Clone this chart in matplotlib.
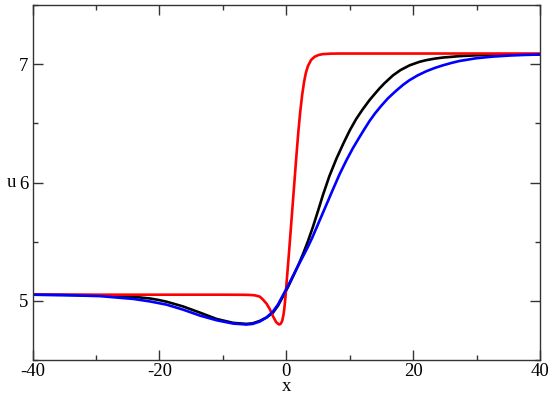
import matplotlib
matplotlib.use("Agg")
import matplotlib.pyplot as plt
from matplotlib.ticker import MultipleLocator

# curves (x, u)
red_x = [-40, -30, -20, -10, -6.5, -5.8, -5.0, -4.2, -3.7, -3.1, -2.6, -2.1, -1.6,
         -1.15, -0.9, -0.65, -0.45, -0.3, -0.14, 0.1, 0.4, 0.7, 1.0, 1.3, 1.6,
         1.9, 2.2, 2.5, 2.8, 3.1, 3.42, 3.9, 4.47, 5.1, 5.78, 7.0, 8.5, 10, 20,
         30, 40]
red_u = [5.052, 5.052, 5.052, 5.052, 5.051, 5.05, 5.047, 5.036, 5.012, 4.975,
         4.93, 4.87, 4.82, 4.80, 4.805, 4.83, 4.88, 4.94, 5.03, 5.19, 5.39, 5.6,
         5.81, 6.02, 6.23, 6.43, 6.6, 6.74, 6.85, 6.93, 6.985, 7.035, 7.063,
         7.078, 7.085, 7.089, 7.09, 7.09, 7.09, 7.09, 7.09]

black_x = [-40, -35, -29.4, -24.1, -21.5, -20.2, -18.9, -16.3, -13.6, -11.0, -8.4,
           -6.3, -5.3, -4.2, -3.1, -2.1, -1.3, -0.5, 0.3, 1.05, 2.0, 2.63, 3.42,
           4.2, 5.0, 5.78, 6.8, 7.89, 9.0, 10.0, 11.0, 12.0, 13.13, 14.0, 14.71,
           15.5, 16.81, 18.0, 19.43, 21.0, 22.06, 23.4, 24.68, 27.3, 29.93, 32.55,
           36, 40]
black_u = [5.052, 5.05, 5.046, 5.034, 5.02, 5.008, 4.993, 4.953, 4.90, 4.847,
           4.814, 4.805, 4.81, 4.83, 4.86, 4.90, 4.96, 5.04, 5.12, 5.205, 5.315,
           5.395, 5.505, 5.625, 5.76, 5.895, 6.055, 6.2, 6.33, 6.44, 6.535, 6.615,
           6.697, 6.752, 6.796, 6.84, 6.905, 6.95, 6.99, 7.02, 7.034, 7.047,
           7.056, 7.068, 7.075, 7.079, 7.081, 7.082]

blue_x = [-40, -35, -29.4, -24.1, -21.5, -18.9, -16.3, -13.6, -11.0, -8.4, -6.3,
          -5.3, -4.2, -3.1, -2.1, -1.3, -0.5, 0.3, 1.05, 2.0, 2.63, 3.4, 4.1,
          4.74, 5.5, 6.3, 7.3, 8.4, 9.5, 10.5, 11.5, 12.3, 13.13, 14.0, 15.0,
          16.0, 17.2, 18.4, 19.43, 20.7, 22.06, 23.4, 24.68, 26.0, 27.3, 29.93,
          32.55, 35.2, 37.5, 40]
blue_u = [5.052, 5.048, 5.04, 5.016, 4.995, 4.968, 4.926, 4.875, 4.836, 4.808,
          4.800, 4.805, 4.825, 4.86, 4.91, 4.97, 5.05, 5.13, 5.21, 5.31, 5.375,
          5.455, 5.535, 5.615, 5.71, 5.81, 5.935, 6.07, 6.19, 6.29, 6.38, 6.45,
          6.52, 6.585, 6.65, 6.71, 6.77, 6.825, 6.865, 6.905, 6.94, 6.968, 6.99,
          7.01, 7.027, 7.05, 7.064, 7.073, 7.078, 7.082]

plt.rcParams['font.family'] = ['Liberation Serif', 'DejaVu Serif']
plt.rcParams['font.size'] = 13.5
plt.rcParams['axes.unicode_minus'] = False

fig = plt.figure(figsize=(5.5, 3.95), dpi=100)
ax = fig.add_axes([0.0593, 0.0886, 0.9225, 0.8987])

ax.plot(black_x, black_u, color='black', lw=1.9)
ax.plot(red_x, red_u, color='red', lw=1.9)
ax.plot(blue_x, blue_u, color='blue', lw=1.9)

ax.set_xlim(-40, 40)
ax.set_ylim(4.5, 7.5)
ax.xaxis.set_major_locator(MultipleLocator(20))
ax.xaxis.set_minor_locator(MultipleLocator(10))
ax.yaxis.set_major_locator(MultipleLocator(1))
ax.yaxis.set_minor_locator(MultipleLocator(0.5))
ax.tick_params(which='both', direction='in', top=True, right=True, width=1.0,
               color='#333333')
ax.tick_params(which='major', length=7.2)
ax.tick_params(which='minor', length=3.6)
ax.tick_params(axis='x', pad=2)
ax.tick_params(axis='y', pad=3)
for s in ax.spines.values():
    s.set_linewidth(1.0)
    s.set_color('#333333')

ax.set_xlabel('x')
ax.xaxis.set_label_coords(0.5, -0.052)
ax.set_ylabel('u', rotation=0, ha='center', va='center')
ax.yaxis.set_label_coords(-0.0426, 0.501)

fig.savefig('out.png', dpi=100)
